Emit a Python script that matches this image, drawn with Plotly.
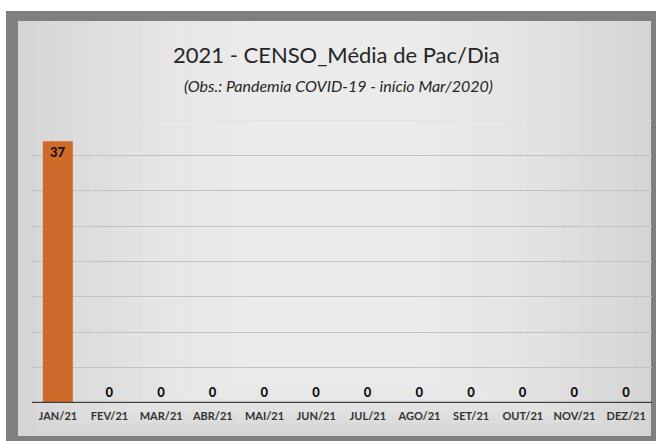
import plotly.graph_objects as go

months = ["JAN/21", "FEV/21", "MAR/21", "ABR/21", "MAI/21", "JUN/21",
          "JUL/21", "AGO/21", "SET/21", "OUT/21", "NOV/21", "DEZ/21"]
values = [37, 0, 0, 0, 0, 0, 0, 0, 0, 0, 0, 0]

title_text = "2021 - CENSO_Média de Pac/Dia"
subtitle_text = "(Obs.: Pandemia COVID-19 - início Mar/2020)"

FONT = "Lato"
BAR = "#D06A2B"

fig = go.Figure()
fig.add_trace(go.Bar(
    x=months, y=values,
    marker=dict(color=BAR, line=dict(width=0)),
    text=[str(v) for v in values],
    textposition=["inside" if v > 0 else "outside" for v in values],
    insidetextanchor="end",
    textfont=dict(family=FONT, size=13, color="#111111", weight=900),
    outsidetextfont=dict(family=FONT, size=13, color="#111111", weight=900),
    cliponaxis=False,
    width=0.58,
    hoverinfo="skip",
))

px = lambda v: (v - 32) / 620
py = lambda v: (403 - v) / 283

shapes = []
# outer gray frame
shapes.append(dict(type="rect", xref="paper", yref="paper", layer="below",
                   x0=px(6), x1=px(656), y0=py(441), y1=py(11),
                   fillcolor="#7f7f7f", line=dict(width=0)))
# inner panel base
shapes.append(dict(type="rect", xref="paper", yref="paper", layer="below",
                   x0=px(18), x1=px(651), y0=py(436), y1=py(21),
                   fillcolor="#d2d2d2", line=dict(width=0)))
# gradient approximation
n = 14
for i in range(n):
    f = i / n
    shapes.append(dict(type="rect", xref="paper", yref="paper", layer="below",
                       x0=px(18 + f * 250), x1=px(651 - f * 250),
                       y0=py(436 - f * 60), y1=py(21),
                       fillcolor="white", opacity=0.075, line=dict(width=0)))
# faint top gridline
shapes.append(dict(type="line", xref="paper", yref="y", x0=0, x1=1, y0=40, y1=40,
                   layer="below", line=dict(color="#dcdcdc", width=1)))
# axis line
shapes.append(dict(type="line", xref="paper", yref="y", x0=0, x1=1, y0=0, y1=0,
                   line=dict(color="#404040", width=2.5)))

fig.update_layout(
    width=656, height=441,
    margin=dict(l=32, r=4, t=120, b=38),
    paper_bgcolor="white",
    plot_bgcolor="rgba(0,0,0,0)",
    showlegend=False,
    bargap=0.42,
    shapes=shapes,
    annotations=[
        dict(text=title_text, xref="paper", yref="paper", x=px(336), y=py(55),
             showarrow=False, font=dict(family=FONT, size=22, color="#262626"),
             xanchor="center", yanchor="middle"),
        dict(text="<i>" + subtitle_text + "</i>", xref="paper", yref="paper",
             x=px(338), y=py(85), showarrow=False,
             font=dict(family=FONT, size=16, color="#262626"),
             xanchor="center", yanchor="middle"),
    ],
    xaxis=dict(
        showgrid=False, showline=False, zeroline=False, ticks="",
        tickfont=dict(family=FONT, size=11, color="#333333", weight="bold"),
        ticklabelstandoff=5,
    ),
    yaxis=dict(
        range=[0, 40], dtick=5, showticklabels=False, showline=False,
        zeroline=False, gridcolor="#c2c2c2", gridwidth=1,
    ),
)

fig.write_html("out.html", config={"displayModeBar": False},
               post_script="document.body.style.margin='0';document.body.style.overflow='hidden';")
